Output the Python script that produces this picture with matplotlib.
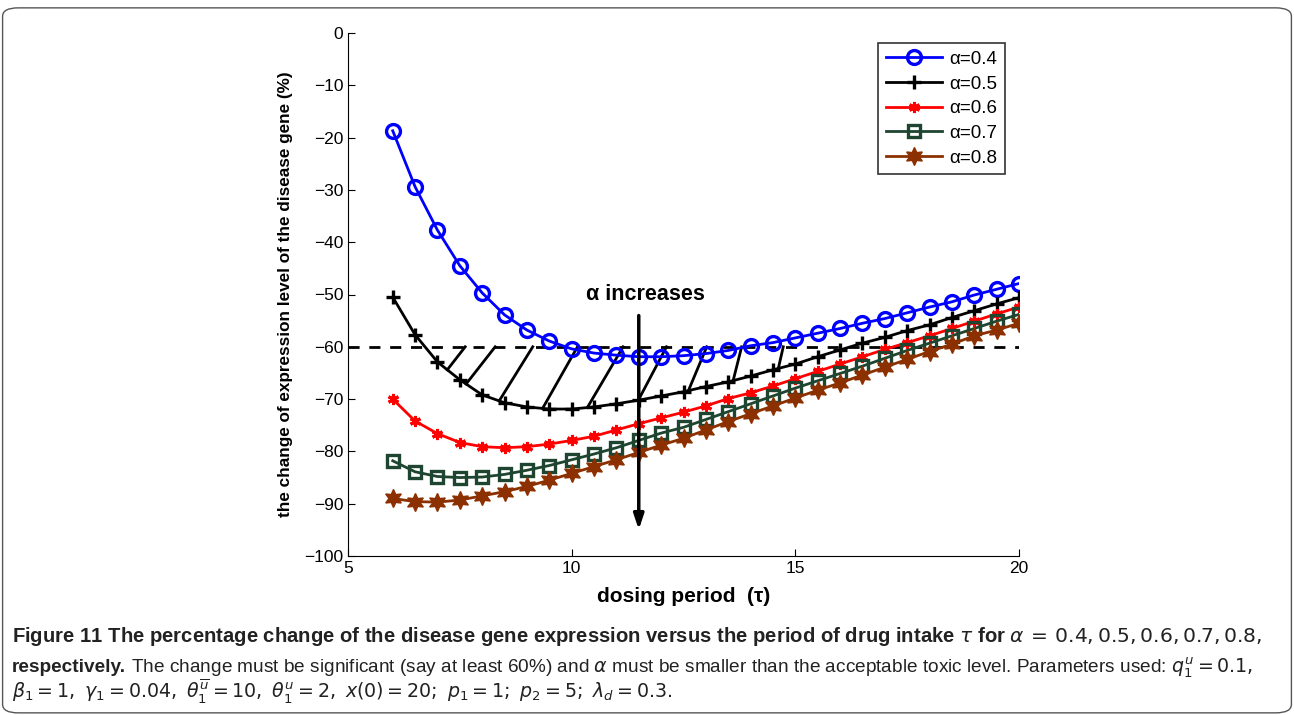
import numpy as np
import matplotlib
matplotlib.use('Agg')
import matplotlib.pyplot as plt
from matplotlib.patches import FancyBboxPatch

plt.rcParams['font.family'] = ['Liberation Sans', 'DejaVu Sans']
plt.rcParams['mathtext.fontset'] = 'dejavusans'

# dosing period tau = 6, 6.5, ..., 20
tau = [6, 6.5, 7, 7.5, 8, 8.5, 9, 9.5, 10, 10.5, 11, 11.5, 12, 12.5, 13, 13.5, 14,
       14.5, 15, 15.5, 16, 16.5, 17, 17.5, 18, 18.5, 19, 19.5, 20]

a04 = [-18.7, -29.4, -37.7, -44.5, -49.7, -53.9, -56.8, -58.9, -60.4, -61.2, -61.6,
       -61.9, -61.9, -61.7, -61.3, -60.7, -59.8, -59.2, -58.3, -57.4, -56.5, -55.5,
       -54.6, -53.5, -52.4, -51.4, -50.1, -49.0, -47.9]
a05 = [-50.5, -57.7, -62.9, -66.3, -69.2, -70.7, -71.5, -71.9, -71.9, -71.5, -70.9,
       -70.2, -69.4, -68.6, -67.6, -66.7, -65.6, -64.4, -63.3, -61.9, -60.6, -59.3,
       -58.2, -56.9, -55.8, -54.4, -53.1, -51.8, -50.6]
a06 = [-70.0, -74.2, -76.6, -78.3, -79.1, -79.3, -79.1, -78.6, -77.9, -77.1, -75.9,
       -74.7, -73.6, -72.5, -71.3, -69.9, -68.8, -67.5, -66.1, -64.7, -63.3, -61.9,
       -60.5, -59.2, -57.9, -56.5, -55.1, -53.7, -52.4]
a07 = [-81.8, -83.9, -84.8, -85.0, -84.9, -84.4, -83.6, -82.7, -81.6, -80.5, -79.3,
       -77.9, -76.5, -75.4, -73.9, -72.4, -70.9, -69.4, -67.9, -66.5, -65.1, -63.7,
       -62.2, -60.7, -59.3, -57.9, -56.5, -55.1, -53.8]
a08 = [-89.0, -89.6, -89.7, -89.3, -88.5, -87.7, -86.7, -85.5, -84.2, -82.9, -81.6,
       -80.2, -78.8, -77.5, -75.9, -74.3, -72.8, -71.3, -69.8, -68.3, -66.9, -65.4,
       -63.9, -62.4, -60.9, -59.5, -57.9, -56.8, -55.5]

labels = ['α=0.4', 'α=0.5', 'α=0.6', 'α=0.7', 'α=0.8']
threshold = -60

# hatch strokes between alpha=0.5 curve and the -60 line
hatch_start = [7.22, 7.64, 8.38, 9.35, 10.35, 11.49, 12.61, 13.61, 14.62]
hatch_end = [7.62, 8.29, 9.13, 10.13, 11.15, 12.12, 13.02, 13.80, 14.73]

arrow_x = 11.5
arrow_top = -53.5
arrow_bottom = -95.5

fig = plt.figure(figsize=(12.94, 7.15), dpi=100)
ax = fig.add_axes([348 / 1294, 1 - 556 / 715, 671 / 1294, 523 / 715])

# frame round the figure
fig.patches.append(FancyBboxPatch((0.002, 0.003), 0.996, 0.986,
                                  boxstyle='round,pad=0,rounding_size=0.012',
                                  transform=fig.transFigure, fill=False,
                                  edgecolor='#555555', lw=1.0))

ax.plot([5, 20], [threshold, threshold], color='black', lw=2, dashes=(4, 3.5), zorder=1)

for s, e in zip(hatch_start, hatch_end):
    ax.plot([s, e], [np.interp(s, tau, a05), threshold], color='black', lw=2, zorder=1)

ax.plot(tau, a04, color='blue', lw=2, marker='o', ms=10, mfc='none', mew=2.4, label=labels[0])
ax.plot(tau, a05, color='black', lw=2, marker='+', ms=10, mew=2.4, label=labels[1])
ax.plot(tau, a06, color='red', lw=2, marker=(6, 2, 0), ms=8, mew=2.2, label=labels[2])
ax.plot(tau, a07, color='#1d4530', lw=2, marker='s', ms=8, mfc='none', mew=2.4, label=labels[3])
ax.plot(tau, a08, color='#8c3000', lw=2, marker=(6, 1, 0), ms=13, mew=1, label=labels[4])

ax.annotate('', xy=(arrow_x, arrow_bottom), xytext=(arrow_x, arrow_top),
            arrowprops=dict(arrowstyle='-|>,head_length=0.9,head_width=0.3', color='black', lw=2.5))
ax.text(arrow_x + 0.15, -50.0, 'α increases', ha='center', va='center', fontsize=15.5, fontweight='bold')

ax.set_xlim(5, 20)
ax.set_ylim(-100, 0)
ax.set_xticks([5, 10, 15, 20])
ax.set_yticks(np.arange(-100, 1, 10))
ax.tick_params(direction='in', labelsize=12.5, length=5)
ax.spines['top'].set_visible(False)
ax.spines['right'].set_visible(False)
ax.set_xlabel('dosing period  (τ)', fontsize=15, fontweight='bold', labelpad=8)
ax.set_ylabel('the change of expression level of the disease gene (%)', fontsize=12.3,
              fontweight='bold', labelpad=8)

leg = ax.legend(loc='upper right', bbox_to_anchor=(0.993, 0.998), fontsize=13.5, handlelength=3.0,
                frameon=True, fancybox=False, borderpad=0.4, labelspacing=0.4, handletextpad=0.4)
leg.get_frame().set_edgecolor('black')
leg.get_frame().set_linewidth(1.2)

# caption, drawn piece by piece so bold and plain parts can share a line
cap_font = ['Liberation Sans Narrow', 'DejaVu Sans Condensed', 'Liberation Sans']
cap_size = 13.8


def put_pieces(x0, y, pieces, size=cap_size):
    fig.canvas.draw()
    rend = fig.canvas.get_renderer()
    x = x0
    for txt, weight in pieces:
        t = fig.text(x, y, txt, fontsize=size, fontweight=weight, family=cap_font,
                     color='#222222', va='baseline')
        bb = t.get_window_extent(renderer=rend)
        x += bb.width / fig.bbox.width


put_pieces(12 / 1294, 1 - 642 / 715, [
    (r'Figure 11 The percentage change of the disease gene expression versus the period of drug intake $\tau$ for $\alpha\,=\,0.4, 0.5, 0.6, 0.7, 0.8,$', 'bold')],
    size=14.6)
put_pieces(12 / 1294, 1 - 672 / 715, [
    ('respectively.', 'bold'),
    (r' The change must be significant (say at least 60%) and $\alpha$ must be smaller than the acceptable toxic level. Parameters used: $q_1^u = 0.1,$', 'normal')],
    size=13.7)
put_pieces(12 / 1294, 1 - 699 / 715, [
    (r'$\beta_1 = 1,\ \gamma_1 = 0.04,\ \theta_1^{\overline{u}} = 10,\ \theta_1^{u} = 2,\ x(0) = 20;\ p_1 = 1;\ p_2 = 5;\ \lambda_d = 0.3.$', 'normal')],
    size=13.7)

fig.savefig('out.png', dpi=100)
